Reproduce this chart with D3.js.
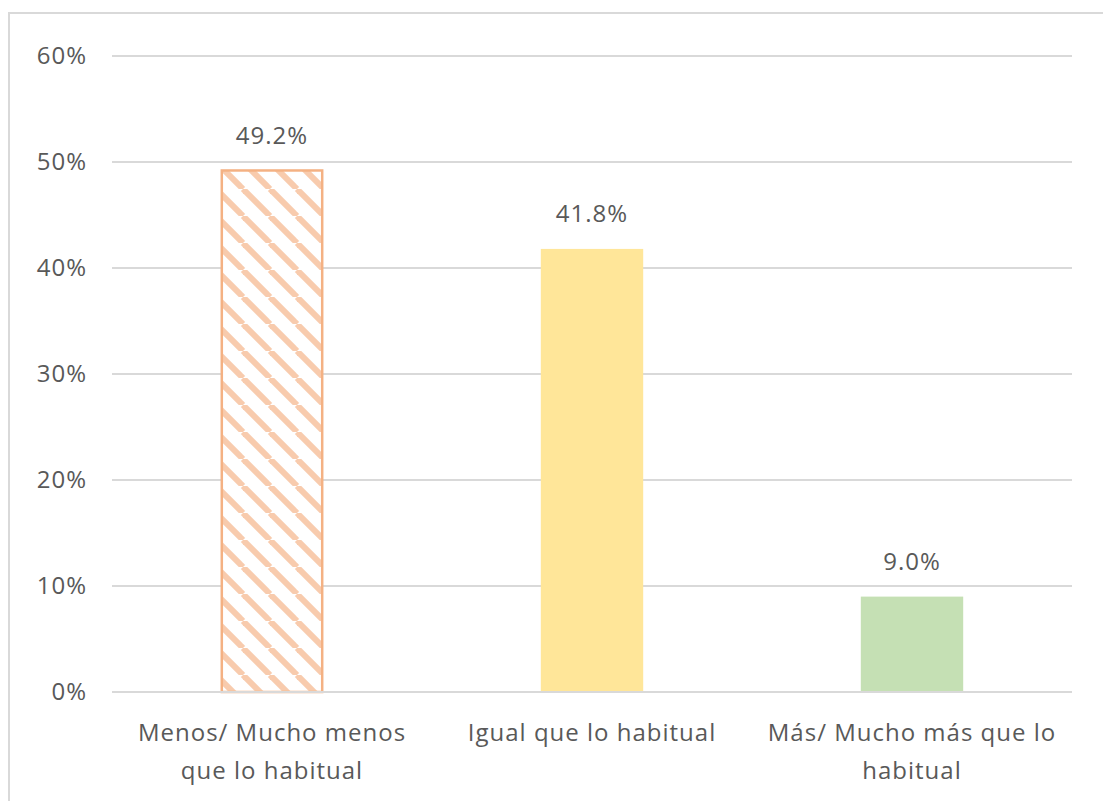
<!DOCTYPE html>
<html>
<head>
<meta charset="utf-8">
<script src="https://cdn.jsdelivr.net/npm/d3@7"></script>
<style>
  body { margin: 0; background: #fff; }
  text { font-family: "Open Sans", "Liberation Sans", sans-serif; fill: #595959; font-size: 24px; letter-spacing: 1px; }
</style>
</head>
<body>
<div id="chart"></div>
<script>
const categories = ["Menos/ Mucho menos que lo habitual", "Igual que lo habitual", "Más/ Mucho más que lo habitual"];
const catLines = [["Menos/ Mucho menos", "que lo habitual"], ["Igual que lo habitual"], ["Más/ Mucho más que lo", "habitual"]];
const values = [49.2, 41.8, 9.0];
const yTicks = [0, 10, 20, 30, 40, 50, 60];

const W = 1103, H = 801;
const plot = { left: 112, right: 1072, top: 56, bottom: 692 };

const svg = d3.select("#chart").append("svg")
  .attr("width", W)
  .attr("height", H);

// hatch for the first bar
const defs = svg.append("defs");
const pat = defs.append("pattern")
  .attr("id", "hatch")
  .attr("patternUnits", "userSpaceOnUse")
  .attr("width", 27)
  .attr("height", 27);
pat.append("rect").attr("width", 27).attr("height", 27).attr("fill", "#fff");
pat.selectAll("line")
  .data([[-27, 0], [0, 0], [27, 0]])
  .join("line")
  .attr("x1", d => d[0]).attr("y1", 0)
  .attr("x2", d => d[0] + 27).attr("y2", 27)
  .attr("stroke", "#f8cbad")
  .attr("stroke-width", 6);

// outer chart border
svg.append("rect")
  .attr("x", 9).attr("y", 13)
  .attr("width", 1110).attr("height", 800)
  .attr("fill", "none")
  .attr("stroke", "#d9d9d9")
  .attr("stroke-width", 2);

const x = d3.scaleBand()
  .domain(categories)
  .range([plot.left, plot.right])
  .paddingInner(0.68)
  .paddingOuter(0.34);

const y = d3.scaleLinear()
  .domain([0, 60])
  .range([plot.bottom, plot.top]);

// gridlines
svg.append("g")
  .selectAll("line")
  .data(yTicks)
  .join("line")
  .attr("x1", plot.left).attr("x2", plot.right)
  .attr("y1", d => y(d)).attr("y2", d => y(d))
  .attr("stroke", "#d9d9d9")
  .attr("stroke-width", 2);

// y tick labels
svg.append("g")
  .selectAll("text")
  .data(yTicks)
  .join("text")
  .attr("x", 87)
  .attr("y", d => y(d))
  .attr("dy", "0.35em")
  .attr("text-anchor", "end")
  .text(d => d + "%");

const colors = ["url(#hatch)", "#ffe699", "#c5e0b4"];
const strokes = ["#f4b183", "none", "none"];

svg.append("g")
  .selectAll("rect")
  .data(values)
  .join("rect")
  .attr("x", (d, i) => x(categories[i]) + (i === 0 ? 1 : 0))
  .attr("y", d => y(d))
  .attr("width", (d, i) => x.bandwidth() - (i === 0 ? 2 : 0))
  .attr("height", d => y(0) - y(d))
  .attr("fill", (d, i) => colors[i])
  .attr("stroke", (d, i) => strokes[i])
  .attr("stroke-width", 2.5);

// redraw baseline over bars
svg.append("line")
  .attr("x1", plot.left).attr("x2", plot.right)
  .attr("y1", y(0)).attr("y2", y(0))
  .attr("stroke", "#d9d9d9")
  .attr("stroke-width", 2);

// value labels
svg.append("g")
  .selectAll("text")
  .data(values)
  .join("text")
  .attr("x", (d, i) => x(categories[i]) + x.bandwidth() / 2)
  .attr("y", d => y(d) - 35)
  .attr("dy", "0.35em")
  .attr("text-anchor", "middle")
  .text(d => d.toFixed(1) + "%");

// category labels
const cat = svg.append("g")
  .selectAll("text")
  .data(categories)
  .join("text")
  .attr("x", d => x(d) + x.bandwidth() / 2)
  .attr("y", 733)
  .attr("text-anchor", "middle");
cat.selectAll("tspan")
  .data((d, i) => catLines[i])
  .join("tspan")
  .attr("x", function() { return d3.select(this.parentNode).attr("x"); })
  .attr("dy", (d, j) => j === 0 ? "0.35em" : "38px")
  .text(d => d);
</script>
</body>
</html>
